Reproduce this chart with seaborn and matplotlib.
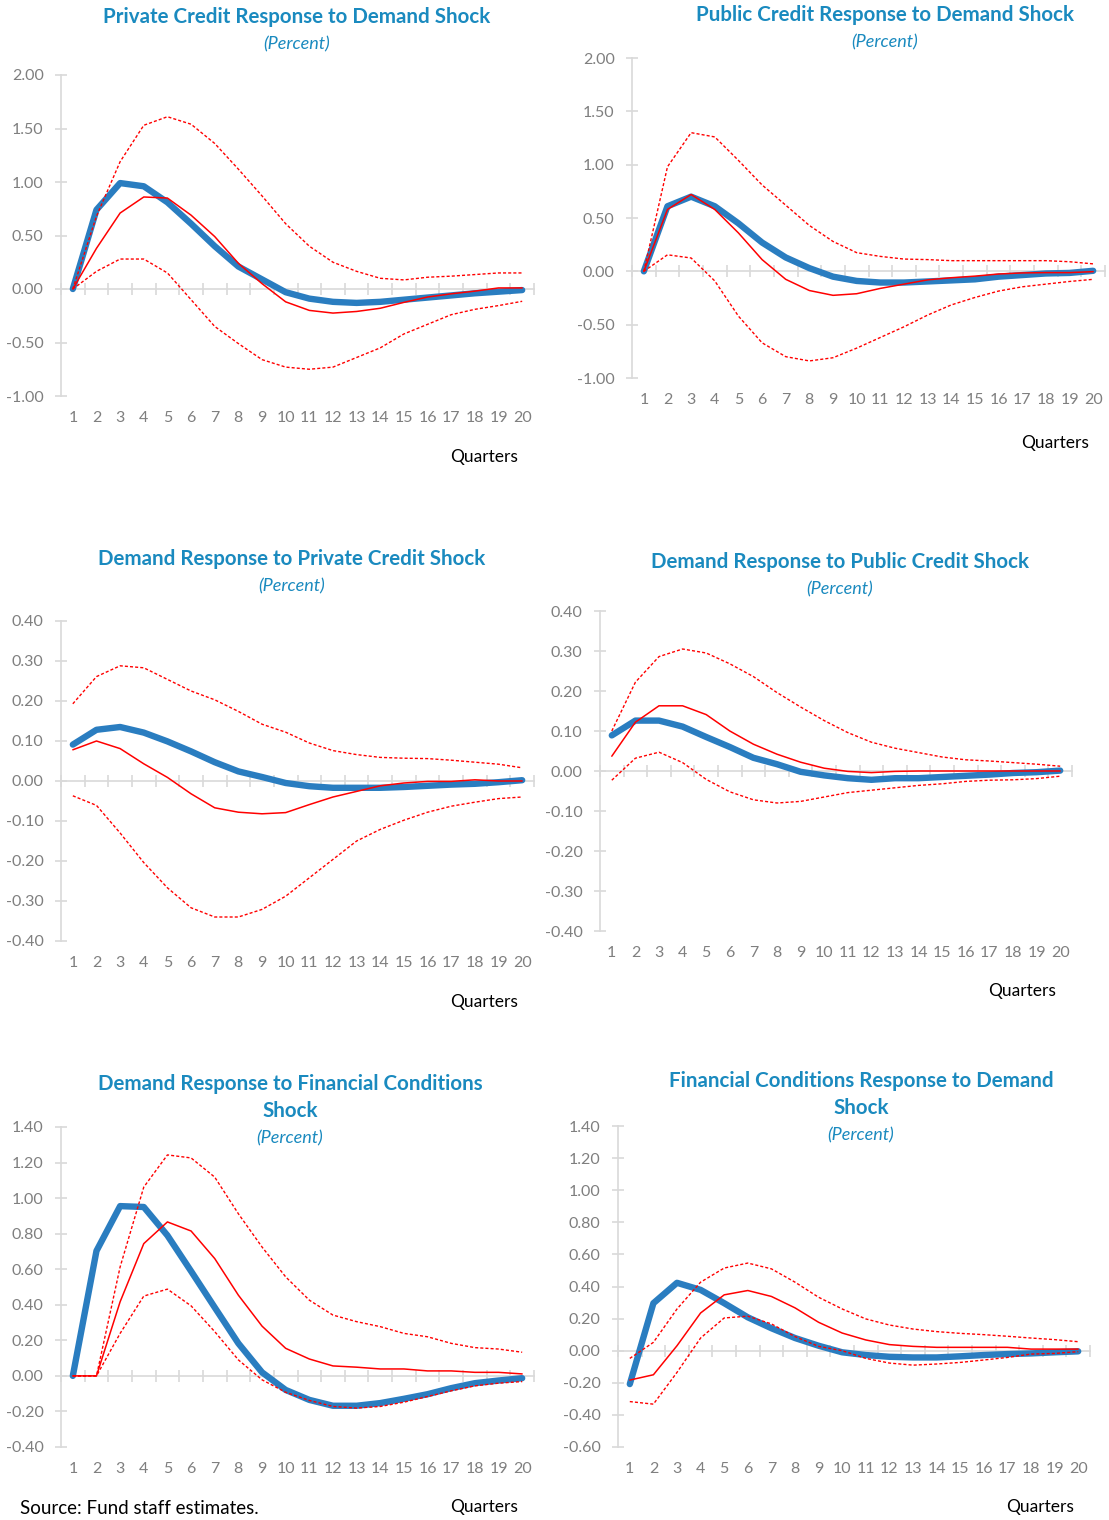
import matplotlib
matplotlib.use("Agg")
import matplotlib.pyplot as plt
import seaborn as sns
import numpy as np
import pandas as pd

# ---------------- data ----------------
quarters = list(range(1, 21))

# Panel 1: Private Credit Response to Demand Shock
p1_irf = [0.00, 0.74, 0.99, 0.96, 0.81, 0.61, 0.40, 0.21, 0.09, -0.03, -0.09, -0.12, -0.13, -0.12, -0.10, -0.08, -0.06, -0.04, -0.025, -0.01]
p1_mid = [0.00, 0.38, 0.71, 0.86, 0.85, 0.69, 0.49, 0.24, 0.05, -0.12, -0.20, -0.225, -0.21, -0.18, -0.125, -0.075, -0.045, -0.02, 0.01, 0.01]
p1_hi = [0.00, 0.68, 1.19, 1.53, 1.61, 1.54, 1.36, 1.12, 0.87, 0.61, 0.40, 0.25, 0.165, 0.10, 0.085, 0.11, 0.12, 0.135, 0.15, 0.15]
p1_lo = [0.00, 0.165, 0.28, 0.28, 0.15, -0.10, -0.35, -0.51, -0.66, -0.73, -0.75, -0.73, -0.64, -0.55, -0.42, -0.33, -0.24, -0.19, -0.155, -0.115]

# Panel 2: Public Credit Response to Demand Shock
p2_irf = [0.00, 0.61, 0.70, 0.61, 0.45, 0.27, 0.13, 0.03, -0.05, -0.09, -0.105, -0.105, -0.095, -0.085, -0.075, -0.05, -0.035, -0.02, -0.015, 0.005]
p2_mid = [0.00, 0.58, 0.72, 0.58, 0.36, 0.11, -0.075, -0.18, -0.225, -0.21, -0.16, -0.12, -0.08, -0.06, -0.045, -0.025, -0.015, -0.012, -0.012, -0.003]
p2_hi = [0.00, 0.98, 1.30, 1.26, 1.04, 0.81, 0.62, 0.43, 0.28, 0.175, 0.14, 0.115, 0.11, 0.10, 0.10, 0.10, 0.10, 0.10, 0.09, 0.07]
p2_lo = [0.00, 0.155, 0.125, -0.09, -0.42, -0.67, -0.80, -0.84, -0.81, -0.72, -0.62, -0.52, -0.41, -0.315, -0.245, -0.185, -0.145, -0.12, -0.095, -0.075]

# Panel 3: Demand Response to Private Credit Shock
p3_irf = [0.091, 0.128, 0.135, 0.121, 0.099, 0.074, 0.047, 0.024, 0.010, -0.005, -0.013, -0.017, -0.017, -0.017, -0.015, -0.012, -0.009, -0.007, -0.003, 0.002]
p3_mid = [0.078, 0.100, 0.081, 0.043, 0.009, -0.032, -0.067, -0.078, -0.082, -0.079, -0.059, -0.040, -0.026, -0.012, -0.005, -0.001, -0.001, 0.003, 0.000, 0.000]
p3_hi = [0.193, 0.261, 0.288, 0.283, 0.254, 0.225, 0.203, 0.174, 0.142, 0.122, 0.095, 0.076, 0.066, 0.059, 0.057, 0.056, 0.052, 0.047, 0.042, 0.033]
p3_lo = [-0.037, -0.061, -0.130, -0.204, -0.267, -0.317, -0.340, -0.340, -0.321, -0.288, -0.242, -0.196, -0.150, -0.121, -0.098, -0.078, -0.063, -0.053, -0.044, -0.040]

# Panel 4: Demand Response to Public Credit Shock
p4_irf = [0.089, 0.126, 0.126, 0.111, 0.085, 0.060, 0.033, 0.017, -0.002, -0.011, -0.018, -0.022, -0.018, -0.018, -0.015, -0.012, -0.009, -0.005, -0.003, 0.001]
p4_mid = [0.037, 0.122, 0.163, 0.163, 0.141, 0.100, 0.067, 0.042, 0.022, 0.007, -0.001, -0.004, -0.001, 0.000, 0.000, 0.000, 0.000, 0.000, 0.000, 0.000]
p4_hi = [0.100, 0.222, 0.286, 0.305, 0.295, 0.268, 0.236, 0.196, 0.160, 0.126, 0.096, 0.072, 0.057, 0.046, 0.035, 0.028, 0.025, 0.021, 0.017, 0.012]
p4_lo = [-0.023, 0.032, 0.047, 0.021, -0.021, -0.052, -0.072, -0.080, -0.076, -0.065, -0.054, -0.048, -0.042, -0.036, -0.032, -0.026, -0.023, -0.022, -0.019, -0.013]

# Panel 5: Demand Response to Financial Conditions Shock
p5_irf = [0.00, 0.703, 0.955, 0.95, 0.79, 0.589, 0.385, 0.183, 0.02, -0.079, -0.135, -0.168, -0.168, -0.153, -0.129, -0.103, -0.069, -0.041, -0.026, -0.013]
p5_mid = [0.00, 0.00, 0.417, 0.744, 0.866, 0.815, 0.66, 0.454, 0.28, 0.155, 0.095, 0.056, 0.049, 0.039, 0.039, 0.028, 0.028, 0.02, 0.02, 0.011]
p5_hi = [0.00, 0.00, 0.613, 1.062, 1.243, 1.226, 1.118, 0.912, 0.725, 0.557, 0.426, 0.342, 0.305, 0.277, 0.239, 0.22, 0.183, 0.159, 0.151, 0.133]
p5_lo = [0.00, 0.00, 0.239, 0.449, 0.488, 0.394, 0.249, 0.09, -0.022, -0.092, -0.138, -0.172, -0.181, -0.172, -0.148, -0.116, -0.084, -0.056, -0.041, -0.032]

# Panel 6: Financial Conditions Response to Demand Shock
p6_irf = [-0.208, 0.296, 0.423, 0.379, 0.296, 0.208, 0.14, 0.079, 0.031, -0.01, -0.027, -0.038, -0.042, -0.042, -0.035, -0.027, -0.021, -0.017, -0.01, -0.004]
p6_mid = [-0.183, -0.15, 0.031, 0.235, 0.348, 0.375, 0.338, 0.267, 0.177, 0.11, 0.067, 0.038, 0.027, 0.021, 0.021, 0.021, 0.021, 0.01, 0.01, 0.01]
p6_hi = [-0.048, 0.052, 0.26, 0.427, 0.515, 0.546, 0.51, 0.427, 0.333, 0.26, 0.198, 0.16, 0.135, 0.119, 0.108, 0.10, 0.09, 0.079, 0.069, 0.056]
p6_lo = [-0.317, -0.333, -0.135, 0.079, 0.204, 0.215, 0.167, 0.088, 0.027, 0.0, -0.048, -0.077, -0.09, -0.083, -0.073, -0.058, -0.042, -0.021, -0.017, -0.006]

titles = [
    ["Private Credit Response to Demand Shock"],
    ["Public Credit Response to Demand Shock"],
    ["Demand Response to Private Credit Shock"],
    ["Demand Response to Public Credit Shock"],
    ["Demand Response to Financial Conditions", "Shock"],
    ["Financial Conditions Response to Demand", "Shock"],
]
subtitle = "(Percent)"
xlabel = "Quarters"
source = "Source: Fund staff estimates."

y_ranges = [(-1.0, 2.0, 0.5), (-1.0, 2.0, 0.5), (-0.4, 0.4, 0.1), (-0.4, 0.4, 0.1), (-0.4, 1.4, 0.2), (-0.6, 1.4, 0.2)]
series = [
    (p1_irf, p1_mid, p1_hi, p1_lo),
    (p2_irf, p2_mid, p2_hi, p2_lo),
    (p3_irf, p3_mid, p3_hi, p3_lo),
    (p4_irf, p4_mid, p4_hi, p4_lo),
    (p5_irf, p5_mid, p5_hi, p5_lo),
    (p6_irf, p6_mid, p6_hi, p6_lo),
]

# ---------------- layout (pixels) ----------------
W, H = 1109, 1520
axes_px = [
    (61, 534, 75, 396),
    (632, 1105, 58, 378),
    (61, 534, 621, 941),
    (600, 1072, 611, 931),
    (61, 534, 1127, 1447),
    (618, 1090, 1126, 1447),
]
title_px = [(297, 17), (885, 15), (292, 559), (840, 562), (290, 1084), (861, 1081)]
quarters_px = [(484, 457), (1055, 443), (484, 1002), (1022, 991), (484, 1507), (1040, 1507)]

sns.set_theme(style="white")
plt.rcParams['font.family'] = ['Lato', 'DejaVu Sans']
plt.rcParams['axes.unicode_minus'] = False

BLUE = "#2A7DC0"
RED = "#FF0000"
TITLE_C = "#1A8ABF"
AXIS_C = "#D9D9D9"
TICK_C = "#7F7F7F"

fig = plt.figure(figsize=(W / 100, H / 100), dpi=100)

for i in range(6):
    l, r, t, b = axes_px[i]
    ax = fig.add_axes([l / W, 1 - b / H, (r - l) / W, (b - t) / H])
    irf, mid, hi, lo = series[i]
    df = pd.DataFrame({"q": quarters, "irf": irf, "mid": mid, "hi": hi, "lo": lo})
    sns.lineplot(data=df, x="q", y="irf", ax=ax, color=BLUE, lw=4.6, zorder=3,
                 solid_capstyle="round", solid_joinstyle="round")
    sns.lineplot(data=df, x="q", y="mid", ax=ax, color=RED, lw=1.1, zorder=4)
    sns.lineplot(data=df, x="q", y="hi", ax=ax, color=RED, lw=1.0, zorder=4, linestyle=(0, (2.2, 1.5)))
    sns.lineplot(data=df, x="q", y="lo", ax=ax, color=RED, lw=1.0, zorder=4, linestyle=(0, (2.2, 1.5)))

    ymin, ymax, step = y_ranges[i]
    ax.set_xlim(0.5, 20.5)
    ax.set_ylim(ymin, ymax)
    yt = np.round(np.arange(ymin, ymax + step / 2, step), 2)
    ax.set_yticks(yt)
    ax.set_yticklabels([f"{(v + 0.0):.2f}" if abs(v) > 1e-9 else "0.00" for v in yt])
    ax.set_xlabel("")
    ax.set_ylabel("")
    ax.grid(False)
    ax.set_facecolor("none")

    for s in ["top", "right"]:
        ax.spines[s].set_visible(False)
    ax.spines["left"].set_color(AXIS_C)
    ax.spines["left"].set_linewidth(1.2)
    ax.spines["bottom"].set_position(("data", 0))
    ax.spines["bottom"].set_color(AXIS_C)
    ax.spines["bottom"].set_linewidth(1.2)

    ax.tick_params(axis="y", direction="inout", length=9, width=1.2, color=AXIS_C,
                   labelcolor=TICK_C, labelsize=11.5, pad=8, left=True)
    ax.set_xticks(quarters)
    ax.set_xticks(np.arange(0.5, 21.0, 1.0), minor=True)
    ax.tick_params(axis="x", which="major", length=0, labelbottom=False, bottom=False)
    ax.tick_params(axis="x", which="minor", direction="inout", length=9, width=1.2,
                   color=AXIS_C, bottom=True)

    sec = ax.secondary_xaxis(0)
    sec.set_xticks(quarters)
    sec.set_xticklabels([str(q) for q in quarters])
    sec.tick_params(axis="x", length=0, labelcolor=TICK_C, labelsize=11.5, pad=11)
    sec.spines["bottom"].set_visible(False)

    # titles
    tx, ty = title_px[i]
    lines = titles[i]
    for k, line in enumerate(lines):
        fig.text(tx / W, 1 - (ty + 27 * k) / H, line, ha="center", va="center",
                 fontsize=14.8, fontweight="bold", color=TITLE_C)
    fig.text(tx / W, 1 - (ty + 27 * len(lines)) / H, subtitle, ha="center", va="center",
             fontsize=13, fontstyle="italic", color=TITLE_C)
    qx, qy = quarters_px[i]
    fig.text(qx / W, 1 - qy / H, xlabel, ha="center", va="center", fontsize=12.5, color="black")

fig.text(20 / W, 1 - 1500 / H, source, ha="left", va="top", fontsize=13.5, color="black")

fig.savefig("out.png", dpi=100)
